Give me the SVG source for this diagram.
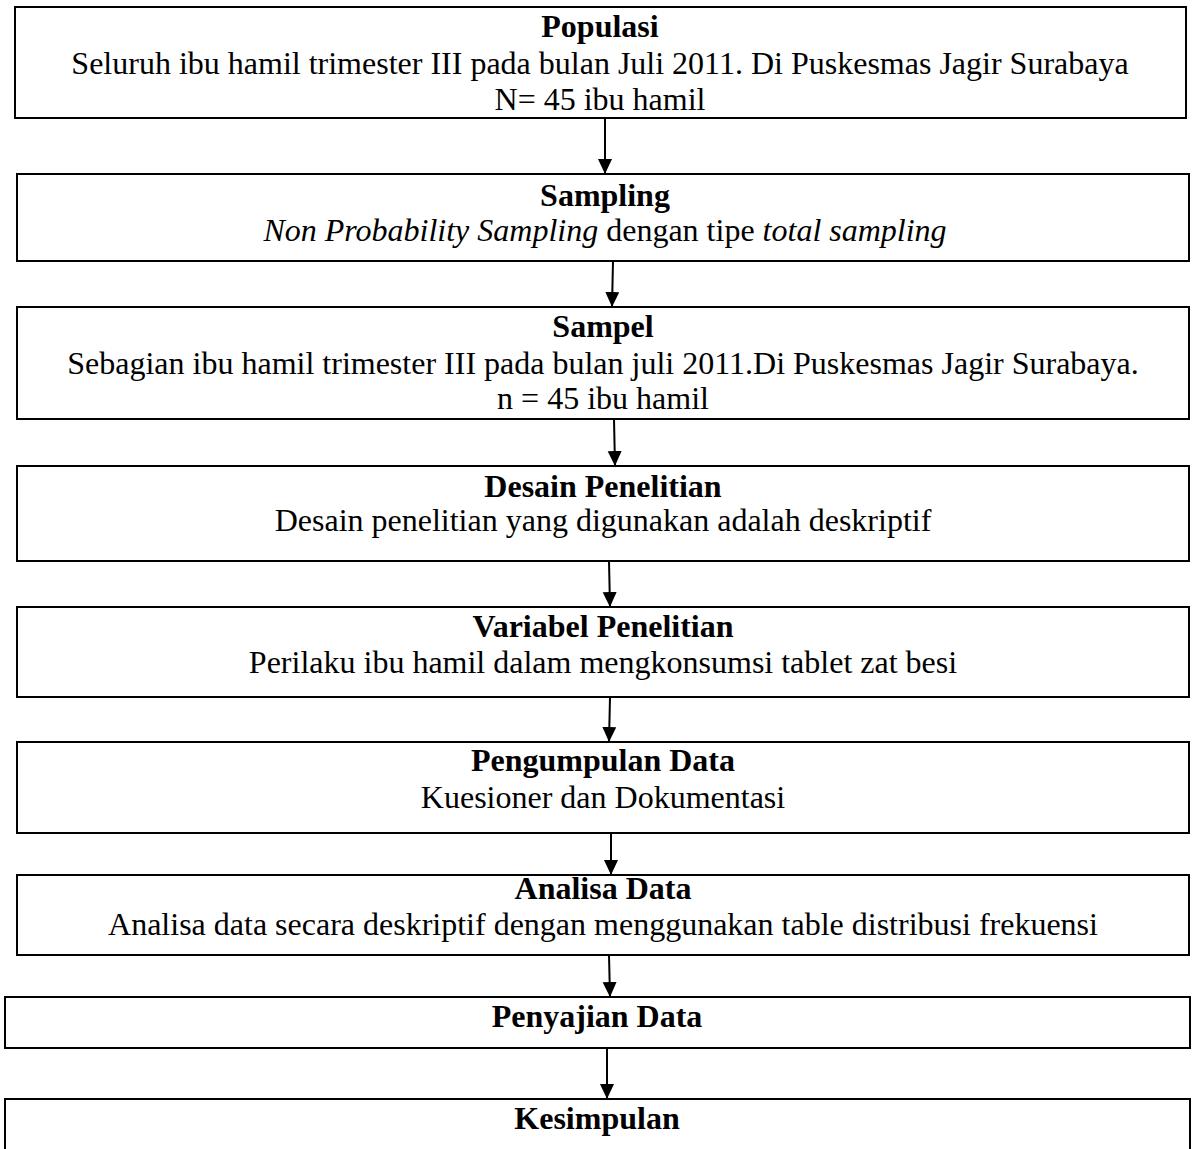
<svg xmlns="http://www.w3.org/2000/svg" width="1194" height="1149" viewBox="0 0 1194 1149">
<style>
  .box { fill: #ffffff; stroke: #000000; stroke-width: 2; }
  text { font-family: "Liberation Serif", "Times New Roman", serif; font-size: 32px; fill: #000000; text-anchor: middle; }
  .t { font-weight: bold; }
  .i { font-style: italic; }
  .conn line { stroke: #000000; stroke-width: 2; marker-end: url(#ah); }
</style>
<defs>
  <marker id="ah" markerUnits="userSpaceOnUse" markerWidth="16" markerHeight="18" refX="15" refY="7" orient="auto">
    <path d="M0,0 L15,7 L0,14 Z" fill="#000000"/>
  </marker>
</defs>
<rect width="1194" height="1149" fill="#ffffff"/>

<g id="populasi">
  <rect class="box" x="15" y="7" width="1171" height="111"/>
  <text class="t" x="600" y="37">Populasi</text>
  <text x="600" y="74">Seluruh ibu hamil trimester III pada bulan Juli 2011. Di Puskesmas Jagir Surabaya</text>
  <text x="600" y="110">N= 45 ibu hamil</text>
</g>

<g id="sampling">
  <rect class="box" x="17" y="174" width="1172" height="87"/>
  <text class="t" x="605" y="206">Sampling</text>
  <text x="605" y="241"><tspan class="i">Non Probability Sampling</tspan> dengan tipe <tspan class="i">total sampling</tspan></text>
</g>

<g id="sampel">
  <rect class="box" x="17" y="307" width="1172" height="112"/>
  <text class="t" x="603" y="337">Sampel</text>
  <text x="603" y="374">Sebagian ibu hamil trimester III pada bulan juli 2011.Di Puskesmas Jagir Surabaya.</text>
  <text x="603" y="409">n = 45 ibu hamil</text>
</g>

<g id="desain">
  <rect class="box" x="17" y="466" width="1172" height="95"/>
  <text class="t" x="603" y="497">Desain Penelitian</text>
  <text x="603" y="531">Desain penelitian yang digunakan adalah deskriptif</text>
</g>

<g id="variabel">
  <rect class="box" x="17" y="607" width="1172" height="90"/>
  <text class="t" x="603" y="637">Variabel Penelitian</text>
  <text x="603" y="673">Perilaku ibu hamil dalam mengkonsumsi tablet zat besi</text>
</g>

<g id="pengumpulan">
  <rect class="box" x="17" y="742" width="1172" height="91"/>
  <text class="t" x="603" y="771">Pengumpulan Data</text>
  <text x="603" y="808">Kuesioner dan Dokumentasi</text>
</g>

<g id="analisa">
  <rect class="box" x="17" y="875" width="1172" height="80"/>
  <text class="t" x="603" y="899">Analisa Data</text>
  <text x="603" y="935">Analisa data secara deskriptif dengan menggunakan table distribusi frekuensi</text>
</g>

<g id="penyajian">
  <rect class="box" x="5" y="997" width="1185" height="51"/>
  <text class="t" x="597" y="1027">Penyajian Data</text>
</g>

<g id="kesimpulan">
  <rect class="box" x="5" y="1099" width="1185" height="70"/>
  <text class="t" x="597" y="1129">Kesimpulan</text>
</g>

<g id="connectors" class="conn">
  <line x1="605" y1="118" x2="605" y2="174"/>
  <line x1="613" y1="261" x2="612" y2="307"/>
  <line x1="614" y1="419" x2="615" y2="466"/>
  <line x1="609" y1="561" x2="610" y2="607"/>
  <line x1="610" y1="697" x2="609" y2="742"/>
  <line x1="611" y1="833" x2="611" y2="875"/>
  <line x1="609" y1="955" x2="610" y2="997"/>
  <line x1="607" y1="1048" x2="607" y2="1099"/>
</g>
</svg>
